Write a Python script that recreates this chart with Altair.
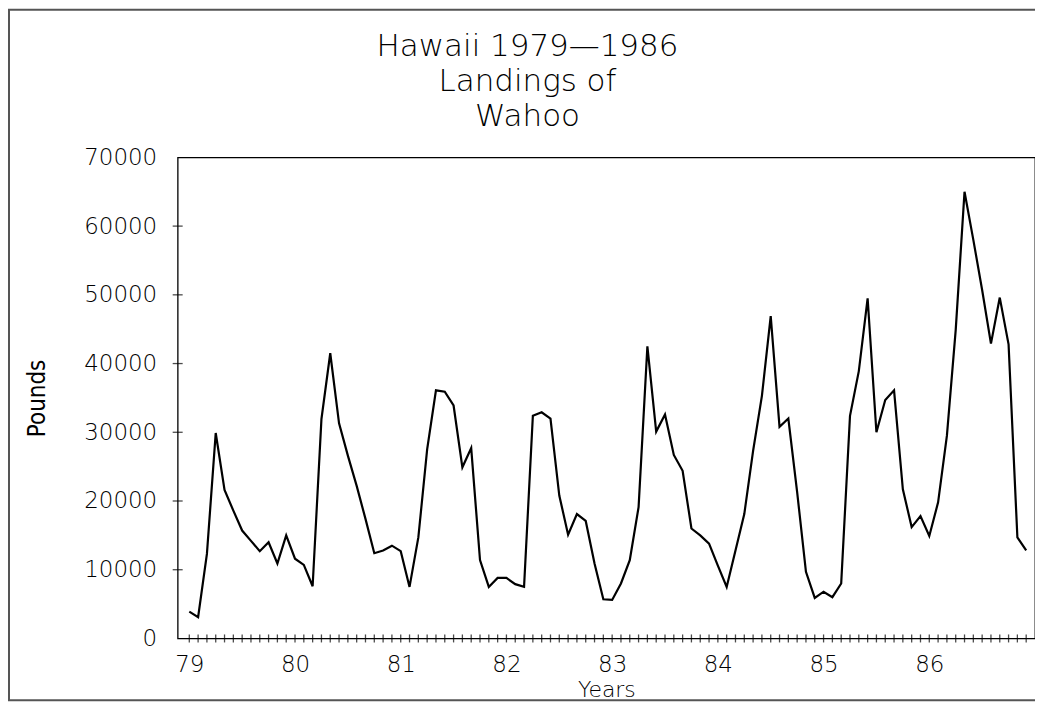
import altair as alt
import pandas as pd

# ---- data (monthly landings, Jan 1979 .. Dec 1986) ----
years = [79, 80, 81, 82, 83, 84, 85, 86]
pounds_79 = [3900, 3100, 12300, 29900, 21600, 18600, 15700, 14200, 12700, 14000, 10900, 15000]
pounds_80 = [11600, 10700, 7600, 31900, 41500, 31300, 26600, 22200, 17400, 12400, 12800, 13500]
pounds_81 = [12700, 7500, 14700, 27500, 36100, 35900, 33900, 24900, 27700, 11400, 7500, 8800]
pounds_82 = [8800, 7900, 7500, 32400, 32900, 32000, 20800, 15100, 18100, 17100, 10900, 5700]
pounds_83 = [5600, 8000, 11400, 19100, 42500, 30100, 32600, 26700, 24400, 16000, 15000, 13800]
pounds_84 = [10600, 7500, 12800, 18100, 27300, 35300, 46900, 30800, 32000, 21300, 9700, 5900]
pounds_85 = [6800, 6000, 8000, 32400, 38900, 49500, 30000, 34700, 36100, 21700, 16200, 17800]
pounds_86 = [14900, 19800, 29500, 44900, 65000, 58000, 50700, 42900, 49600, 42800, 14700, 12800]
y_ticks = [0, 10000, 20000, 30000, 40000, 50000, 60000, 70000]
title_lines = ["Hawaii 1979\u20141986", "Landings of", "Wahoo"]

all_pounds = pounds_79 + pounds_80 + pounds_81 + pounds_82 + pounds_83 + pounds_84 + pounds_85 + pounds_86
months = [y + m / 12 for y in years for m in range(12)]

X_MIN, X_MAX = 78.89, 87.0
df = pd.DataFrame({"Year": months, "Pounds": all_pounds})
xticks_df = pd.DataFrame({"Year": months, "Pounds": [0] * len(months)})
yticks_df = pd.DataFrame({"Year": [X_MIN] * 6, "Pounds": y_ticks[1:7]})

FONT = "DejaVu Sans"
LIGHT = 200

xscale = alt.Scale(domain=[X_MIN, X_MAX], nice=False, zero=False)
yscale = alt.Scale(domain=[0, 70000], nice=False)

xaxis = alt.Axis(values=years, format="d", title="Years", grid=False, ticks=False, tickSize=0,
                 domain=False, labelFont=FONT, labelFontSize=23, labelFontWeight=LIGHT,
                 labelColor="black", labelBaseline="middle", labelPadding=26,
                 titleFont=FONT, titleFontSize=22, titleFontWeight=LIGHT, titleColor="black",
                 titleY=51, titleBaseline="middle")
yaxis = alt.Axis(values=y_ticks, format="d", title="Pounds", grid=False, ticks=False, tickSize=0,
                 domain=False, labelFont=FONT, labelFontSize=23, labelFontWeight=LIGHT,
                 labelColor="black", labelPadding=21,
                 titleFont="Liberation Sans Narrow, DejaVu Sans Condensed, sans-serif",
                 titleFontSize=24, titleFontWeight="normal", titleColor="black",
                 titleX=-140, titleY=241, titleAngle=270, titleAlign="center",
                 titleBaseline="middle")

line = alt.Chart(df).mark_line(color="black", strokeWidth=2.2).encode(
    x=alt.X("Year:Q", scale=xscale, axis=xaxis),
    y=alt.Y("Pounds:Q", scale=yscale, axis=yaxis),
)

xt = alt.Chart(xticks_df).mark_tick(orient="vertical", size=8, thickness=1.3, color="black").encode(
    x=alt.X("Year:Q", scale=xscale, axis=xaxis),
    y=alt.Y("Pounds:Q", scale=yscale, axis=yaxis),
)
yt = alt.Chart(yticks_df).mark_tick(orient="horizontal", size=10, thickness=1.3, color="black").encode(
    x=alt.X("Year:Q", scale=xscale, axis=xaxis),
    y=alt.Y("Pounds:Q", scale=yscale, axis=yaxis),
)

frame = alt.Chart(pd.DataFrame({"f": [0]})).mark_rect(
    filled=False, stroke="#555555", strokeWidth=2
).encode(
    x=alt.value(-169), x2=alt.value(867), y=alt.value(-148), y2=alt.value(544)
)

chart = alt.layer(frame, line, xt, yt).properties(
    width=859,
    height=482,
    background="white",
    title=alt.TitleParams(text=title_lines, font=FONT, fontSize=31, fontWeight=LIGHT,
                          color="black", lineHeight=35.5, anchor="middle", dx=-79,
                          baseline="bottom", offset=0, dy=156),
    padding={"left": 170, "top": 149, "right": 0, "bottom": 63},
    autosize=alt.AutoSizeParams(type="none"),
).configure_view(stroke="black", strokeWidth=1.3)

chart.save("out.html", embed_options={"renderer": "svg", "actions": False})
